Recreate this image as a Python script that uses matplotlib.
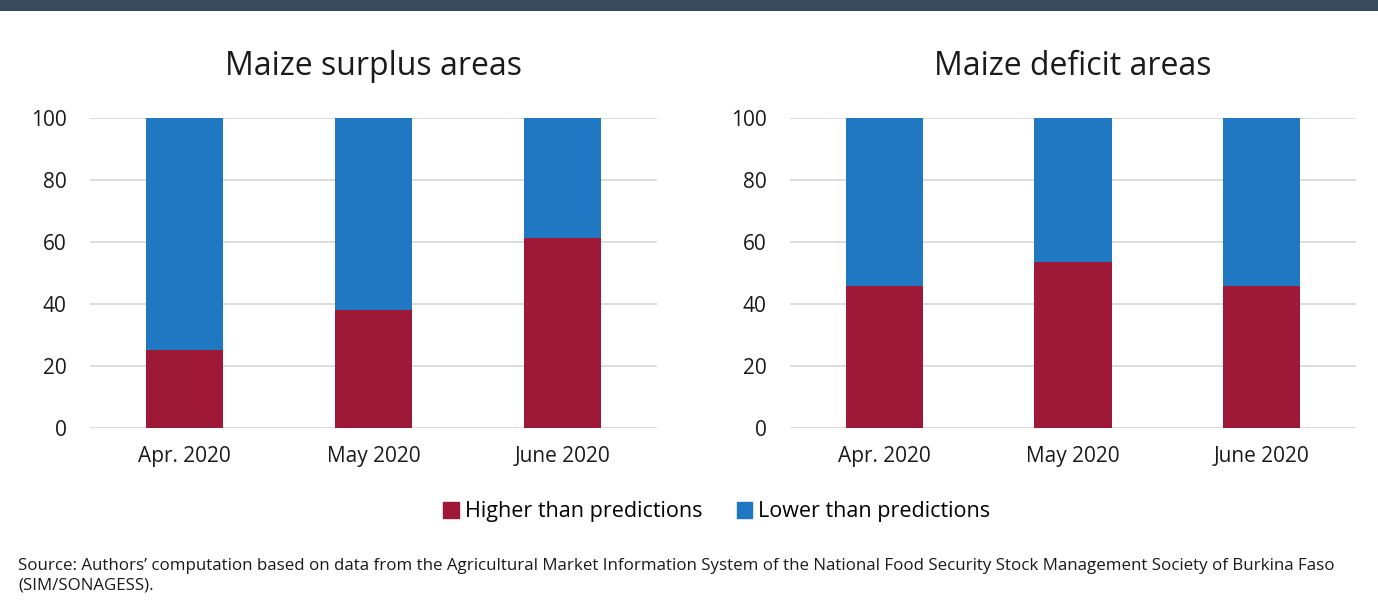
import matplotlib.pyplot as plt
from matplotlib.patches import Rectangle

months = ["Apr. 2020", "May 2020", "June 2020"]
surplus_higher = [25.2, 38.1, 61.3]
deficit_higher = [45.8, 53.5, 45.8]
titles = ["Maize surplus areas", "Maize deficit areas"]

red = "#9e1838"
blue = "#1f78c1"

plt.rcParams['font.family'] = ['Open Sans', 'DejaVu Sans']

fig = plt.figure(figsize=(13.78, 6.08), dpi=100)

# dark band across the top
fig.add_artist(Rectangle((0, 1 - 11 / 608), 1, 11 / 608, transform=fig.transFigure,
                         color="#384b5c", lw=0))

W, H = 1378, 608
boxes = [(90, 657), (790, 1356)]
for (x0, x1), title, higher in zip(boxes, titles, [surplus_higher, deficit_higher]):
  ax = fig.add_axes([x0 / W, 1 - 428 / H, (x1 - x0) / W, 310 / H])
  lower = [100 - v for v in higher]
  x = range(len(months))
  ax.bar(x, higher, width=0.41, color=red, zorder=3)
  ax.bar(x, lower, bottom=higher, width=0.41, color=blue, zorder=3)
  ax.set_xlim(-0.5, 2.5)
  ax.set_ylim(0, 100)
  ax.set_yticks(range(0, 101, 20))
  ax.set_xticks(list(x))
  ax.set_xticklabels(months)
  ax.grid(axis='y', color="#d9d9d9", lw=1.3, zorder=0)
  for s in ax.spines.values():
    s.set_visible(False)
  ax.tick_params(length=0, labelsize=15, pad=17, colors="#1a1a1a")
  ax.tick_params(axis='x', pad=13)
  ax.set_title(title, fontsize=23, pad=31, color="#1a1a1a")

handles = [Rectangle((0, 0), 1, 1, color=red), Rectangle((0, 0), 1, 1, color=blue)]
fig.legend(handles, ["Higher than predictions", "Lower than predictions"],
           loc='center', bbox_to_anchor=(717 / W, 1 - 512 / H), ncol=2, frameon=False,
           fontsize=15.5, handlelength=0.7, handleheight=0.7, handletextpad=0.3,
           columnspacing=1.6)

fig.text(18 / W, 1 - 576 / H,
         "Source: Authors\u2019 computation based on data from the Agricultural Market Information System "
         "of the National Food Security Stock Management Society of Burkina Faso\n(SIM/SONAGESS).",
         fontsize=12.2, va='center', ha='left', color="#1a1a1a", linespacing=1.25)

fig.savefig("out.png", dpi=100)
